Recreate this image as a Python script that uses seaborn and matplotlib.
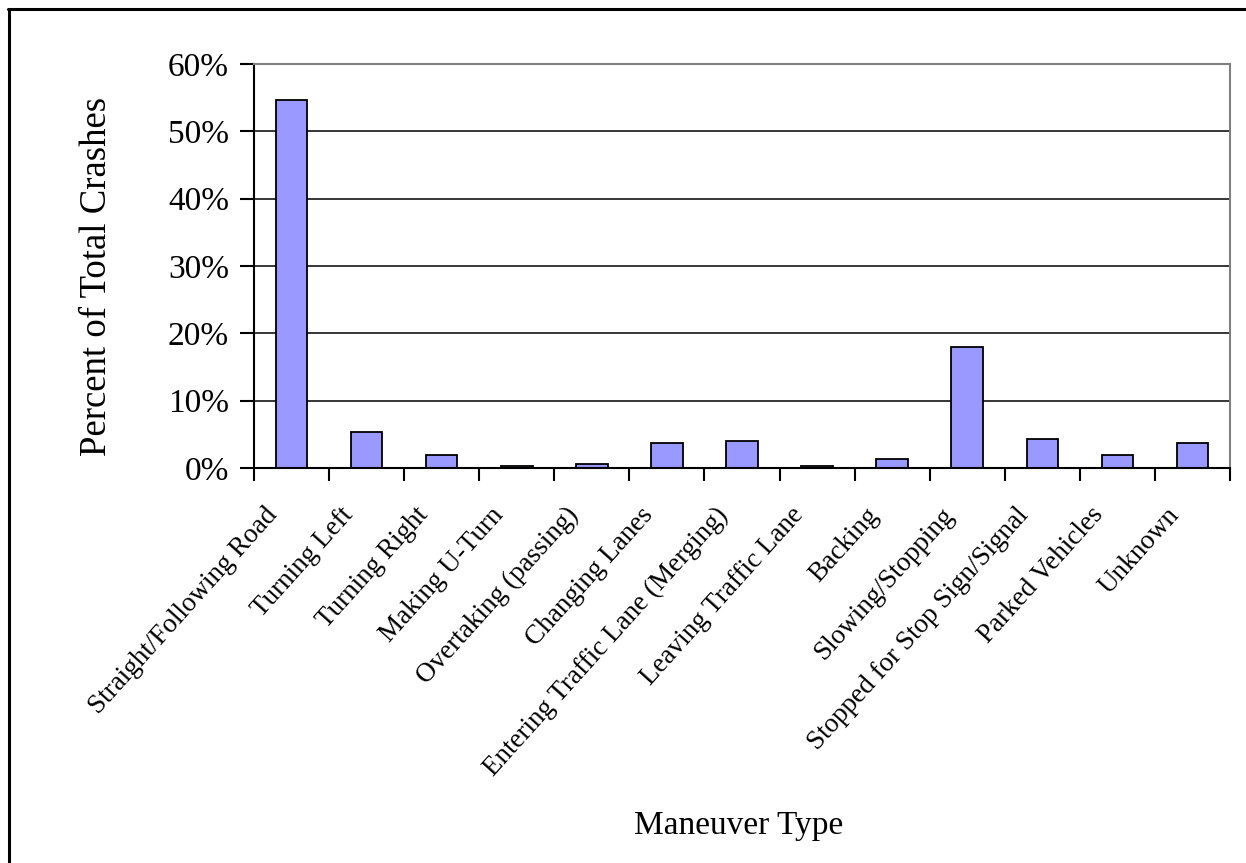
import matplotlib
matplotlib.use("Agg")
import matplotlib.pyplot as plt
from matplotlib.lines import Line2D
from matplotlib.ticker import FixedLocator, PercentFormatter
import numpy as np
import pandas as pd
import seaborn as sns

maneuvers = [
    "Straight/Following Road", "Turning Left", "Turning Right", "Making U-Turn",
    "Overtaking (passing)", "Changing Lanes", "Entering Traffic Lane (Merging)",
    "Leaving Traffic Lane", "Backing", "Slowing/Stopping",
    "Stopped for Stop Sign/Signal", "Parked Vehicles", "Unknown",
]
percent_of_crashes = [54.7, 5.3, 1.9, 0.3, 0.6, 3.7, 4.0, 0.3, 1.3, 18.0, 4.3, 2.0, 3.7]
y_ticks = [0, 10, 20, 30, 40, 50, 60]

df = pd.DataFrame({"Maneuver": maneuvers, "Percent": percent_of_crashes})

sns.set_theme(style="white")
plt.rcParams["font.family"] = ["Liberation Serif", "DejaVu Serif"]
plt.rcParams["text.color"] = "black"
plt.rcParams["xtick.color"] = "black"
plt.rcParams["ytick.color"] = "black"
plt.rcParams["axes.labelcolor"] = "black"

W, H = 1246, 863
fig = plt.figure(figsize=(W / 100, H / 100), dpi=100)
ax = fig.add_axes([254 / W, 1 - 468 / H, (1230 - 254) / W, (468 - 64) / H])

sns.barplot(data=df, x="Maneuver", y="Percent", color="#9999FF", saturation=1,
            edgecolor="black", linewidth=1.3, width=0.42, ax=ax, zorder=3)

n = len(maneuvers)
ax.set_xlim(-0.5, n - 0.5)
ax.set_ylim(0, 60)
ax.yaxis.set_major_locator(FixedLocator(y_ticks))
ax.yaxis.set_major_formatter(PercentFormatter(decimals=0))
ax.grid(axis="y", color="black", linewidth=1.1, zorder=0)
ax.set_axisbelow(True)

# category boundary ticks below the axis; slanted labels hang just left of
# each category centre, without tick marks of their own
ax.set_xticks(np.arange(n) - 0.36)
ax.set_xticks(np.arange(-0.5, n), minor=True)
ax.tick_params(axis="x", which="major", length=0, pad=25)
ax.tick_params(axis="x", which="minor", length=9, width=1.5, color="black",
               direction="out", bottom=True)
ax.set_xticklabels(maneuvers, rotation=48, ha="right", va="top",
                   rotation_mode="anchor", fontsize=19.5)

ax.tick_params(axis="y", length=10, width=1.5, color="black", direction="out",
               left=True, labelsize=24, pad=8)

for side in ("left", "bottom"):
    ax.spines[side].set_color("black")
    ax.spines[side].set_linewidth(1.5)
for side in ("top", "right"):
    ax.spines[side].set_color("#808080")
    ax.spines[side].set_linewidth(1.5)
ax.spines["bottom"].set_zorder(4)

ax.set_xlabel("")
ax.set_ylabel("")
fig.text(739 / W, 1 - 826 / H, "Maneuver Type", fontsize=24, ha="center", va="center")
fig.text(97 / W, 1 - 276 / H, "Percent of Total Crashes", fontsize=26.5,
         rotation=90, ha="center", va="center")

# outer chart frame (left and top edges)
fig.add_artist(Line2D([9 / W, 9 / W], [0, 1 - 9 / H], color="black", linewidth=2.2,
                      transform=fig.transFigure))
fig.add_artist(Line2D([8 / W, 1], [1 - 9 / H, 1 - 9 / H], color="black", linewidth=2.2,
                      transform=fig.transFigure))

fig.savefig("out.png", dpi=100, facecolor="white")
